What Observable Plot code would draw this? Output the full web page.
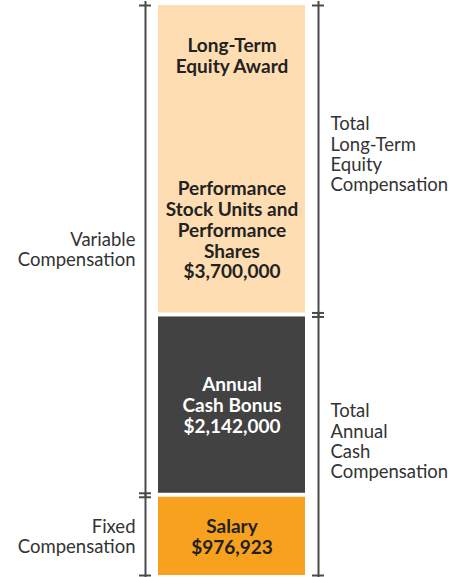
<!DOCTYPE html>
<html>
<head>
<meta charset="utf-8">
<script src="https://cdn.jsdelivr.net/npm/d3@7"></script>
<script src="https://cdn.jsdelivr.net/npm/@observablehq/plot@0.6"></script>
<style>
  html, body { margin: 0; padding: 0; background: #fff; }
</style>
</head>
<body>
<div id="chart"></div>
<script>
// ---- data ----
const segments = ["Salary", "Annual Cash Bonus", "Long-Term Equity Award"];
const values = [976923, 2142000, 3700000];
const barLabels = [
  "Salary\n$976,923",
  "Annual\nCash Bonus\n$2,142,000",
  "Performance\nStock Units and\nPerformance\nShares\n$3,700,000"
];
const headerLabel = "Long-Term\nEquity Award";
// bracket groups: [first segment index, last segment index]
const leftGroups = [
  {label: "Fixed\nCompensation", from: 0, to: 0},
  {label: "Variable\nCompensation", from: 1, to: 2}
];
const rightGroups = [
  {label: "Total\nAnnual\nCash\nCompensation", from: 0, to: 1},
  {label: "Total\nLong-Term\nEquity\nCompensation", from: 2, to: 2}
];

// ---- derived table ----
let acc = 0;
const rows = segments.map((name, i) => {
  const r = {name, y1: acc, y2: acc + values[i], label: barLabels[i]};
  acc += values[i];
  return r;
});
const total = acc;
const span = g => ({label: g.label, y1: rows[g.from].y1, y2: rows[g.to].y2, ym: (rows[g.from].y1 + rows[g.to].y2) / 2});
const L = leftGroups.map(span);
const R = rightGroups.map(span);
const col = () => "Pay";

const bracketColor = "#4a4a4a";
const capOpts = {insetLeft: 67.5, insetRight: 67.5, stroke: bracketColor, strokeWidth: 2};

function bracket(groups, dx) {
  return [
    Plot.ruleX(groups, {x: col, y1: "y1", y2: "y2", dx, insetTop: 2, insetBottom: 2, stroke: bracketColor, strokeWidth: 2}),
    Plot.tickY(groups, {x: col, y: "y2", dx, dy: 2, ...capOpts}),
    Plot.tickY(groups, {x: col, y: "y1", dx, dy: -2, ...capOpts})
  ];
}

const barText = {fontSize: 19, fontWeight: "bold", lineHeight: 1.1};
const sideText = {fill: "#333", fontSize: 18.5, lineHeight: 1.1};

const chart = Plot.plot({
  width: 457,
  height: 577,
  marginTop: 3,
  marginBottom: 0,
  marginLeft: 0,
  marginRight: 0,
  x: {type: "band", domain: ["Pay"], range: [158, 305], padding: 0, axis: null},
  y: {domain: [0, total], axis: null},
  color: {domain: segments, range: ["#F7A11F", "#424242", "#FEDDB3"]},
  style: {fontFamily: "Lato, 'Open Sans', sans-serif", background: "#fff", color: "#333"},
  marks: [
    Plot.barY(rows, {x: col, y1: "y1", y2: "y2", fill: "name", insetTop: 2, insetBottom: 2}),
    // bar labels
    Plot.text(rows.filter(d => d.name === "Salary"), {x: col, y: d => (d.y1 + d.y2) / 2, text: "label", fill: "#222", ...barText}),
    Plot.text(rows.filter(d => d.name === "Annual Cash Bonus"), {x: col, y: d => (d.y1 + d.y2) / 2, text: "label", fill: "#fff", ...barText}),
    Plot.text(rows.filter(d => d.name === "Long-Term Equity Award"), {x: col, y: "y1", dy: -85, text: "label", fill: "#222", ...barText}),
    Plot.text(rows.filter(d => d.name === "Long-Term Equity Award"), {x: col, y: "y2", dy: 52, text: () => headerLabel, fill: "#222", ...barText}),
    // brackets
    ...bracket(L, -86.5),
    ...bracket(R, 86.5),
    // side labels
    Plot.text(L, {x: col, y: "ym", text: "label", dx: -96.5, textAnchor: "end", ...sideText}),
    Plot.text(R, {x: col, y: "ym", text: "label", dx: 98.5, dy: -5, textAnchor: "start", ...sideText})
  ]
});
document.getElementById("chart").appendChild(chart);
</script>
</body>
</html>
